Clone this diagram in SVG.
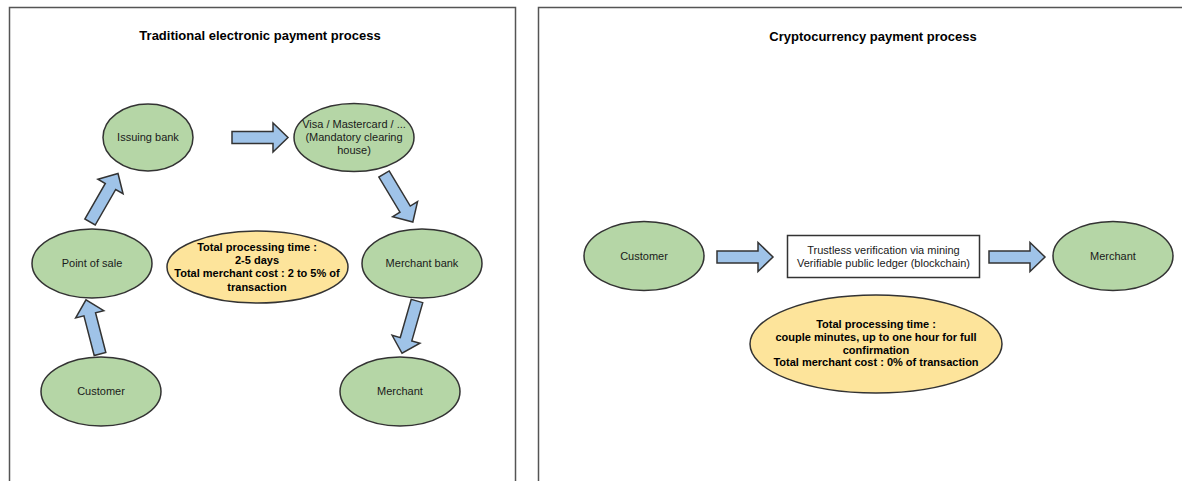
<svg xmlns="http://www.w3.org/2000/svg" width="1182" height="481" viewBox="0 0 1182 481">
<style>
.frame{fill:none;stroke:#555;stroke-width:1.5}
.node{fill:#b5d6a6;stroke:#333;stroke-width:1.5}
.note{fill:#fde49b;stroke:#333;stroke-width:1.5}
.box{fill:#fff;stroke:#333;stroke-width:1.5}
.arr{fill:#9fc3e8;stroke:#333;stroke-width:1.5;stroke-linejoin:miter}
text{font-family:"Liberation Sans",Arial,sans-serif;fill:#1a1a1a;text-anchor:middle}
.t{font-size:11px}
.b{font-size:11px;font-weight:bold;fill:#000}
.title{font-size:13px;font-weight:bold;fill:#000}
</style>
<defs>
<path id="blk" d="M0,-6 H41 V-14.5 L56,0 L41,14.5 V6 H0 Z"/>
</defs>
<rect width="1182" height="481" fill="#fff"/>
<rect class="frame" x="9.5" y="7.5" width="506" height="490"/>
<rect class="frame" x="538.5" y="7.5" width="660" height="490"/>
<text class="title" x="260" y="40">Traditional electronic payment process</text>
<text class="title" x="873" y="41">Cryptocurrency payment process</text>

<g id="connectors">
<use href="#blk" class="arr" transform="translate(232,137.5)"/>
<use href="#blk" class="arr" transform="translate(90,222) rotate(-60)"/>
<use href="#blk" class="arr" transform="translate(384,174) rotate(59)"/>
<use href="#blk" class="arr" transform="translate(100,354) rotate(-104.5)"/>
<use href="#blk" class="arr" transform="translate(417,301) rotate(106) scale(0.97,1)"/>
<use href="#blk" class="arr" transform="translate(717,257)"/>
<use href="#blk" class="arr" transform="translate(989,257)"/>
</g>

<g id="issuing-bank"><ellipse class="node" cx="148" cy="137.5" rx="45" ry="33.5"/><text class="t" x="148" y="141">Issuing bank</text></g>
<g id="visa"><ellipse class="node" cx="354" cy="137.5" rx="60" ry="34"/>
<text class="t" x="354" y="128">Visa / Mastercard / ...</text><text class="t" x="354" y="141">(Mandatory clearing</text><text class="t" x="354" y="154">house)</text></g>
<g id="point-of-sale"><ellipse class="node" cx="92" cy="263.5" rx="60" ry="34.5"/><text class="t" x="92" y="267">Point of sale</text></g>
<g id="merchant-bank"><ellipse class="node" cx="422" cy="263.5" rx="60" ry="34.5"/><text class="t" x="422" y="267">Merchant bank</text></g>
<g id="customer-left"><ellipse class="node" cx="101" cy="391.5" rx="60" ry="34.5"/><text class="t" x="101" y="395">Customer</text></g>
<g id="merchant-left"><ellipse class="node" cx="400" cy="391.5" rx="60" ry="34.5"/><text class="t" x="400" y="395">Merchant</text></g>
<g id="note-left"><ellipse class="note" cx="257.5" cy="267" rx="90.5" ry="36"/>
<text class="b" x="257" y="251">Total processing time :</text><text class="b" x="257" y="264">2-5 days</text><text class="b" x="257" y="277">Total merchant cost : 2 to 5% of</text><text class="b" x="257" y="291">transaction</text></g>

<g id="customer-right"><ellipse class="node" cx="644" cy="256" rx="60" ry="34.5"/><text class="t" x="644" y="260">Customer</text></g>
<g id="verification"><rect class="box" x="787.5" y="235.5" width="192" height="42"/>
<text class="t" x="883.5" y="254">Trustless verification via mining</text><text class="t" x="883.5" y="267">Verifiable public ledger (blockchain)</text></g>
<g id="merchant-right"><ellipse class="node" cx="1113" cy="256" rx="60" ry="34.5"/><text class="t" x="1113" y="260">Merchant</text></g>
<g id="note-right"><ellipse class="note" cx="876" cy="344" rx="126" ry="49"/>
<text class="b" x="876" y="328">Total processing time :</text><text class="b" x="876" y="341">couple minutes, up to one hour for full</text><text class="b" x="876" y="354">confirmation</text><text class="b" x="876" y="366">Total merchant cost : 0% of transaction</text></g>
</svg>
